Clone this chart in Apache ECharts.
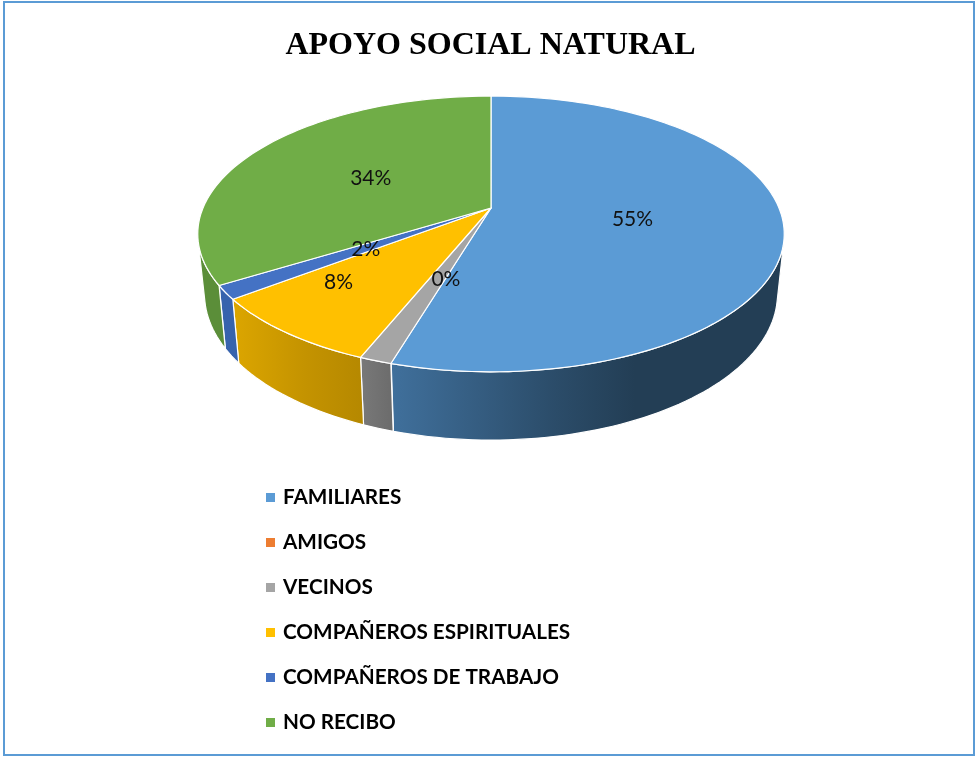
<!DOCTYPE html>
<html><head><meta charset="utf-8">
<style>html,body{margin:0;padding:0;background:#fff}#c{width:976px;height:757px}</style>
<script src="https://cdn.jsdelivr.net/npm/echarts@6/dist/echarts.min.js"></script>
</head><body><div id="c"></div>
<script>
const categories = ['FAMILIARES','AMIGOS','VECINOS','COMPAÑEROS ESPIRITUALES','COMPAÑEROS DE TRABAJO','NO RECIBO'];
const shares = [54.6, 0, 1.5, 8.5, 1.6, 33.8];
const labels = ['55%','0%','','8%','2%','34%'];
const titleText = 'APOYO SOCIAL NATURAL';

// styling and scene layout
const topColors = ['#5b9bd5','#ed7d31','#a5a5a5','#ffc000','#4472c4','#70ad47'];
const wallStops = [
  [[0,'#40709c'],[0.42,'#2b4c69'],[0.62,'#233e55'],[1,'#233e55']],
  [[0,'#b35c24'],[1,'#b35c24']],
  [[0,'#797979'],[1,'#6b6b6b']],
  [[0,'#dca600'],[0.55,'#c49300'],[1,'#b58800']],
  [[0,'#3763ad'],[1,'#3763ad']],
  [[0,'#5b8e39'],[1,'#5b8e39']]
];
const scene = {cx:491, cy:208, rx:288, ry:133, k:0.188, depth:58.5, shrink:0.977};
const labelRadius = [0.49,0.5,0.5,0.69,0.5,0.5];
const labelTurn = [0,0,0,6.8,0,0];

const total = shares.reduce((a,b)=>a+b,0);
function project(deg, r, low){
  const t = deg*Math.PI/180, x = r*Math.sin(t), z = -r*Math.cos(t), d = 1-scene.k*z;
  const sc = low ? scene.shrink : 1;
  return [scene.cx + sc*scene.rx*x/d,
          scene.cy + sc*scene.ry*z/d + (low ? scene.depth/d : 0)];
}
function arc(a0,a1,r,low){
  const n = Math.max(2,Math.ceil(Math.abs(a1-a0)/1.5)), out=[];
  for(let i=0;i<=n;i++) out.push(project(a0+(a1-a0)*i/n,r,low));
  return out;
}
// a wall point can be seen when the outer rim turns towards the viewer there
function wallFaces(deg){
  const p = project(deg-0.5,1,false), q = project(deg+0.5,1,false);
  const a = project(deg,1,false), b = project(deg,1,true);
  return (q[0]-p[0])*(b[1]-a[1])-(q[1]-p[1])*(b[0]-a[0]) < 0;
}
function visibleRange(a0,a1){
  let lo = null, hi = null;
  for(let d=a0;d<=a1;d+=0.1){ if(wallFaces(d)){ if(lo===null) lo=d; hi=d; } }
  return lo===null ? null : [lo,hi];
}
function sliceRenderer(idx){
  const before = shares.slice(0,idx).reduce((a,b)=>a+b,0);
  return function(params, api){
    const a0 = before/total*360, a1 = a0+api.value(0)/total*360;
    const kids = [];
    if(a1-a0>0.01){
      const seen = visibleRange(a0,a1);
      if(seen){
        const wall = arc(seen[0],seen[1],1,false).concat(arc(seen[0],seen[1],1,true).reverse());
        kids.push({type:'polygon',z2:1,shape:{points:wall},style:{
          fill:new echarts.graphic.LinearGradient(0,0,1,0,wallStops[idx].map(s=>({offset:s[0],color:s[1]}))),
          stroke:'#ffffff',lineWidth:1.2,lineJoin:'round'}});
      }
      const face = [project(0,0,false)].concat(arc(a0,a1,1,false));
      kids.push({type:'polygon',z2:5,shape:{points:face},style:{
        fill:topColors[idx],stroke:'#ffffff',lineWidth:1.2,lineJoin:'round'}});
    }
    if(labels[idx]){
      const p = project((a0+a1)/2+labelTurn[idx],labelRadius[idx],false);
      kids.push({type:'text',z2:20,style:{text:labels[idx],x:p[0],y:p[1]+1.5,align:'center',verticalAlign:'middle',
        fill:'#111',font:'21px Lato, "Open Sans", sans-serif'}});
    }
    return {type:'group',children:kids};
  };
}
const chart = echarts.init(document.getElementById('c'),null,{renderer:'canvas'});
chart.setOption({
  animation:false,
  backgroundColor:'#fff',
  title:{text:titleText,left:485.5,top:25,textAlign:'center',
    textStyle:{fontFamily:'"Liberation Serif",serif',fontWeight:'bold',fontSize:32,color:'#000'}},
  legend:{orient:'vertical',left:261,top:482,itemWidth:9,itemHeight:9,itemGap:24,icon:'rect',selectedMode:false,
    data:categories,
    textStyle:{fontFamily:'Lato, "Open Sans", sans-serif',fontWeight:'bold',fontSize:20.7,color:'#000',padding:[0,0,0,3]}},
  graphic:[{type:'rect',z:-1,shape:{x:4,y:2,width:970,height:753},style:{fill:'transparent',stroke:'#5b9bd5',lineWidth:2}}],
  series:categories.map((name,i)=>({
    type:'custom',name,coordinateSystem:'none',silent:true,clip:false,
    itemStyle:{color:topColors[i]},
    data:[[shares[i]]],
    renderItem:sliceRenderer(i)
  }))
});
</script></body></html>
